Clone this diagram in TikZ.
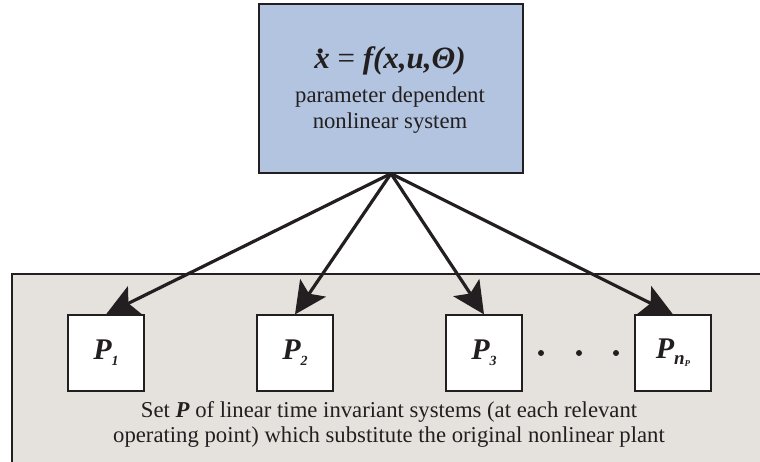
\documentclass[tikz,border=0pt]{standalone}
\usepackage{fontspec}
\setmainfont{Liberation Serif}
\usetikzlibrary{arrows.meta}
\definecolor{topfill}{RGB}{178,196,223}
\definecolor{botfill}{RGB}{229,225,221}
\definecolor{edge}{RGB}{35,31,32}
\newcommand{\xdotsym}{x\llap{\raisebox{0.5em}{.}\kern0.14em}}
\newcommand{\subs}[2]{\raisebox{-6pt}{\fontsize{#1}{#1}\selectfont #2}}
\begin{document}
\begin{tikzpicture}[x=1pt,y=-1pt,
  plant/.style={draw=edge,line width=1.2pt,fill=white,minimum width=76pt,minimum height=76pt,inner sep=0pt,font=\fontsize{30}{32}\selectfont\bfseries\itshape,text=edge},
  conn/.style={draw=edge,line width=3.2pt,-{Stealth[length=32pt,width=31pt,inset=7pt]}},
  dot/.style={circle,fill=edge,inner sep=0pt,minimum size=6pt}]
\useasboundingbox (0,0) rectangle (760,462);
% bottom region
\fill[botfill] (12,274) rectangle (760,462);
\draw[edge,line width=1.2pt] (12,462) -- (12,274) -- (760,274);
% top box
\node (sys) [draw=edge,line width=1.2pt,fill=topfill,minimum width=264pt,minimum height=169pt,inner sep=0pt] at (391,88.5) {};
\node (eq) [text=edge] at (390,61) {\fontsize{31}{34}\selectfont\bfseries\itshape \xdotsym\ \textup{\mdseries=}\ f(x,u,Θ)};
\node (desc) [align=center,text=edge,font=\fontsize{22.7}{26}\selectfont] at (390,110) {parameter dependent\\nonlinear system};
% plants
\node (p1) [plant] at (106,353) {P\subs{14}{1}};
\node (p2) [plant] at (295,353) {P\subs{14}{2}};
\node (p3) [plant] at (484,353) {P\subs{14}{3}};
\node (pn) [plant] at (673,353) {P\subs{19}{n\raisebox{-2pt}{\fontsize{9}{9}\selectfont P}}};
\node (d1) [dot] at (541,353) {};
\node (d2) [dot] at (579,353) {};
\node (d3) [dot] at (616,353) {};
\node (caption) [align=center,text=edge,font=\fontsize{22.7}{25}\selectfont] at (389,424) {Set \textbf{\textit{P}} of linear time invariant systems (at each relevant\\operating point) which substitute the original nonlinear plant};
% connectors
\draw[conn] (sys.south) -- (p1.north);
\draw[conn] (sys.south) -- (p2.north);
\draw[conn] (sys.south) -- (p3.north);
\draw[conn] (sys.south) -- (pn.north);
\end{tikzpicture}
\end{document}
